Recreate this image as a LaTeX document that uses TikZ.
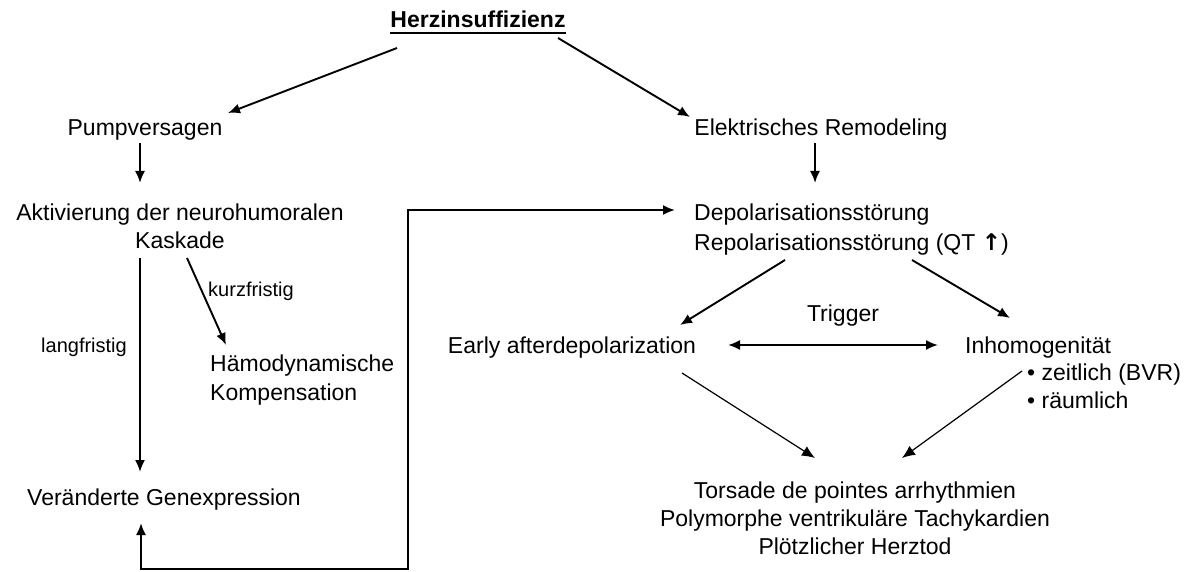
\documentclass[tikz,border=0pt]{standalone}
\usepackage{fontspec}
\setmainfont{Liberation Sans}
\newfontfamily\symfont{DejaVu Sans}
\usetikzlibrary{arrows.meta,calc}
\begin{document}
\begin{tikzpicture}[x=1pt,y=-1pt,
  txt/.style={inner sep=0pt,font=\fontsize{23}{29}\selectfont},
  small/.style={inner sep=0pt,font=\fontsize{20}{24}\selectfont},
  arr/.style={line width=1.9pt,-{Latex[length=12pt,width=10pt]}},
  thinarr/.style={line width=1.2pt,-{Latex[length=13pt,width=11pt]}},
  both/.style={line width=1.9pt,{Latex[length=12pt,width=10pt]}-{Latex[length=12pt,width=10pt]}}]
\useasboundingbox (0,0) rectangle (1198,572);

\node[txt,anchor=base,font=\fontsize{23}{29}\selectfont\bfseries] (herz) at (478,28) {Herzinsuffizienz};
\node[txt,anchor=base] (pump) at (145,136) {Pumpversagen};
\node[txt,anchor=base] (elek) at (821,136) {Elektrisches Remodeling};
\node[txt,anchor=base,align=center,font=\fontsize{23}{28}\selectfont] (akt) at (180,248) {Aktivierung der neurohumoralen\\Kaskade};
\node[txt,anchor=base west,align=left,font=\fontsize{23}{30}\selectfont] (depol) at (694,250) {Depolarisationsstörung\\Repolarisationsstörung (QT {\symfont\bfseries ↑})};
\node[small,anchor=base] (kurz) at (251,296) {kurzfristig};
\node[small,anchor=base] (lang) at (84,352) {langfristig};
\node[txt,anchor=base west,align=left] (hamo) at (210,400) {Hämodynamische\\Kompensation};
\node[txt,anchor=base] (trig) at (843,321) {Trigger};
\node[txt,anchor=base] (early) at (572,353) {Early afterdepolarization};
\node[txt,anchor=base west,align=left,font=\fontsize{23}{27.5}\selectfont] (inhom) at (965,408) {Inhomogenität\\\hspace*{62pt}• zeitlich (BVR)\\\hspace*{62pt}• räumlich};
\node[txt,anchor=base] (gen) at (164,505) {Veränderte Genexpression};
\node[txt,anchor=base,align=center,font=\fontsize{23}{28}\selectfont] (tors) at (855,554) {Torsade de pointes arrhythmien\\Polymorphe ventrikuläre Tachykardien\\Plötzlicher Herztod};

% underline
\draw[line width=1.8pt] ($(herz.base west)+(0,5)$) -- ($(herz.base east)+(0,5)$);

\draw[arr] ($(herz.base)+(-81,20)$) -- ($(pump.base)+(83,-23)$);
\draw[arr] ($(herz.base)+(80,10)$) -- ($(elek.base)+(-131,-19)$);
\draw[arr] ($(pump.base)+(-5,7)$) -- ($(akt.base)+(-40,-65)$);
\draw[arr] ($(elek.base)+(-6,7)$) -- ($(depol.base west)+(121,-67)$);
\draw[arr] ($(akt.base)+(-40,10)$) -- ($(gen.base)+(-24,-33)$);
\draw[arr] ($(akt.base)+(7,10)$) -- ($(hamo.base west)+(16,-55)$);
\draw[both] ($(gen.base)+(-23,18)$) |- (408,569) |- ($(depol.base west)+(-19,-40)$);
\draw[arr] ($(depol.base west)+(91,10)$) -- ($(early.base)+(108,-28)$);
\draw[arr] ($(depol.base west)+(218,10)$) -- ($(inhom.base west)+(45,-90)$);
\draw[both] ($(early.base)+(156,-8)$) -- ($(inhom.base west)+(-27,-63)$);
\draw[thinarr] ($(early.base)+(110,20)$) -- ($(tors.base)+(-40,-96)$);
\draw[thinarr] ($(inhom.base west)+(57,-37)$) -- ($(tors.base)+(47,-96)$);
\end{tikzpicture}
\end{document}
